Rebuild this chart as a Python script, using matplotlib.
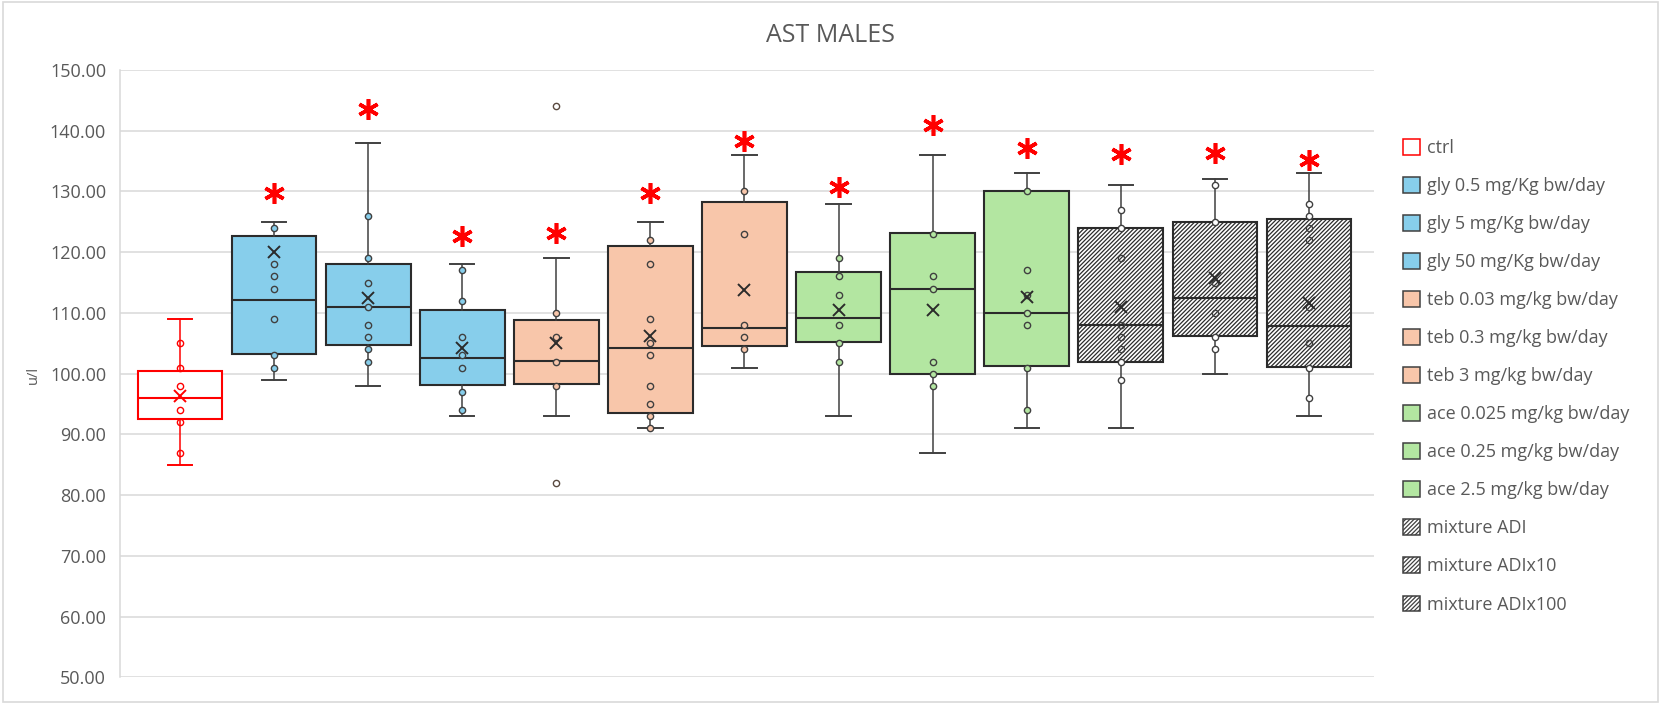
import matplotlib
matplotlib.use("Agg")
import matplotlib.pyplot as plt
from matplotlib.patches import Patch, Rectangle
import numpy as np

plt.rcParams['font.family'] = ['Open Sans', 'DejaVu Sans']
plt.rcParams['hatch.linewidth'] = 0.9

# ---------------- data ----------------
groups = ["ctrl", "gly 0.5 mg/Kg bw/day", "gly 5 mg/Kg bw/day", "gly 50 mg/Kg bw/day",
          "teb 0.03 mg/kg bw/day", "teb 0.3 mg/kg bw/day", "teb 3 mg/kg bw/day",
          "ace 0.025 mg/kg bw/day", "ace 0.25 mg/kg bw/day", "ace 2.5 mg/kg bw/day",
          "mixture ADI", "mixture ADIx10", "mixture ADIx100"]
q1 = [92.5, 103.3, 104.7, 98.1, 98.3, 93.6, 104.6, 105.2, 100.0, 101.2, 102.0, 106.2, 101.1]
median = [96.0, 112.1, 111.0, 102.6, 102.1, 104.2, 107.5, 109.1, 114.0, 110.0, 108.0, 112.4, 107.9]
q3 = [100.5, 122.6, 118.1, 110.5, 108.9, 121.1, 128.3, 116.7, 123.1, 130.0, 124.0, 124.9, 125.4]
whisker_low = [85, 99, 98, 93, 93, 91, 101, 93, 87, 91, 91, 100, 93]
whisker_high = [109, 125, 138, 118, 119, 125, 136, 128, 136, 133, 131, 132, 133]
means = [96.3, 120.0, 112.5, 104.2, 105.0, 106.2, 113.7, 110.5, 110.5, 112.7, 111.0, 115.7, 111.6]
outliers = [[], [], [], [], [82, 144], [], [], [], [], [], [], [], []]
inner_points = [
    [87, 92, 94, 98, 101, 105],
    [101, 103, 109, 114, 116, 118, 124],
    [102, 104, 106, 108, 111, 115, 119, 126],
    [94, 97, 101, 103, 106, 112, 117],
    [98, 102, 106, 110],
    [91, 93, 95, 98, 103, 105, 109, 118, 122],
    [104, 106, 108, 123, 130],
    [102, 105, 108, 113, 116, 119],
    [98, 100, 102, 114, 116, 123],
    [94, 101, 108, 110, 113, 117, 130],
    [99, 102, 104, 106, 108, 119, 124, 127],
    [104, 106, 110, 115, 125, 131],
    [96, 101, 105, 111, 122, 124, 126, 128],
]
significance_y = [None, 129.7, 143.6, 122.7, 123.1, 129.7, 138.3, 130.7, 140.9, 137.1, 136.2, 136.3, 135.2]
yticks = [50, 60, 70, 80, 90, 100, 110, 120, 130, 140, 150]

# ---------------- styles ----------------
BLUE, PEACH, GREEN = '#87CEEB', '#F8C6AA', '#B3E6A1'
fills = ['white', BLUE, BLUE, BLUE, PEACH, PEACH, PEACH, GREEN, GREEN, GREEN, 'white', 'white', 'white']
hatches = [None] * 10 + ['////////'] * 3
edge = '#2B2B2B'
wcol = '#404040'
edges = ['#FF0000'] + [edge] * 12
wcols = ['#FF0000'] + [wcol] * 12
text_col = '#595959'
grid_col = '#D9D9D9'

fig = plt.figure(figsize=(16.62, 7.04), dpi=100)
ax = fig.add_axes([120 / 1662, 1 - 677.3 / 704, (1374 - 120) / 1662, (677.3 - 70) / 704])

positions = np.arange(1, len(groups) + 1)
for i, pos in enumerate(positions):
    stats = [dict(med=median[i], q1=q1[i], q3=q3[i], whislo=whisker_low[i],
                  whishi=whisker_high[i], mean=means[i], fliers=outliers[i], label=groups[i])]
    res = ax.bxp(stats, positions=[pos], widths=0.90, capwidths=0.26, showmeans=True,
                 patch_artist=True, manage_ticks=False,
                 boxprops=dict(facecolor=fills[i], edgecolor=edges[i], linewidth=1.5,
                               hatch=hatches[i]),
                 medianprops=dict(color=edges[i], linewidth=1.5),
                 whiskerprops=dict(color=wcols[i], linewidth=1.1),
                 capprops=dict(color=wcols[i], linewidth=1.4),
                 meanprops=dict(marker='x', markeredgecolor=edges[i], markersize=9,
                                markeredgewidth=1.4, linestyle='none'),
                 flierprops=dict(marker='o', markerfacecolor='white', markeredgecolor='#5a4a40',
                                 markersize=4.5, markeredgewidth=1.0))
    for b in res['boxes']:
        b.set_zorder(2)
    for m in res['means']:
        m.set_zorder(5)
    pts = np.asarray(inner_points[i], dtype=float)
    if i == 0:
        ax.plot(np.full(len(pts), pos), pts, linestyle='none', marker='o', markersize=4.5,
                markerfacecolor='none', markeredgecolor=edges[0], markeredgewidth=1.0, zorder=4)
    elif hatches[i] is not None:
        inside = (pts > q1[i] + 0.5) & (pts < q3[i] - 0.5)
        ax.plot(np.full(inside.sum(), pos), pts[inside], linestyle='none', marker='o',
                markersize=4.5, markerfacecolor='none', markeredgecolor=wcol,
                markeredgewidth=1.0, zorder=4)
        ax.plot(np.full((~inside).sum(), pos), pts[~inside], linestyle='none', marker='o',
                markersize=4.5, markerfacecolor='white', markeredgecolor=wcol,
                markeredgewidth=1.0, zorder=4)
    else:
        ax.plot(np.full(len(pts), pos), pts, linestyle='none', marker='o', markersize=4.5,
                markerfacecolor=fills[i], markeredgecolor=wcol, markeredgewidth=1.0, zorder=4)
    if significance_y[i] is not None:
        ax.plot([pos], [significance_y[i]], linestyle='none', marker=(6, 2, 0),
                markersize=15, markeredgewidth=2.6, color='#FF0000', zorder=6)

ax.set_xlim(1 - 60 / 94.08, 13 + 65 / 94.08)
ax.set_ylim(50, 150)
ax.set_yticks(yticks)
ax.set_yticklabels([f"{v:.2f}" for v in yticks])
ax.set_xticks([])
ax.tick_params(axis='y', length=0, pad=10, labelsize=13, labelcolor=text_col)
ax.yaxis.grid(True, color=grid_col, linewidth=1.1)
ax.set_axisbelow(True)
for s in ['top', 'right', 'bottom']:
    ax.spines[s].set_visible(False)
ax.spines['left'].set_color(grid_col)
ax.spines['left'].set_linewidth(1.1)

fig.text(0.4998, 1 - 35 / 704, "AST MALES", ha='center', va='center', fontsize=18,
         color=text_col)
fig.text(33 / 1662, 1 - 375 / 704, "u/l", rotation=90, ha='center', va='center',
         fontsize=10.5, color=text_col)

handles = []
for i, g in enumerate(groups):
    handles.append(Patch(facecolor=fills[i], edgecolor=edges[i] if i == 0 else '#404040',
                         hatch=hatches[i], linewidth=1.1, label=g))
fig.legend(handles=handles, loc='upper left', bbox_to_anchor=(1403 / 1662, 1 - 139 / 704),
           frameon=False, fontsize=13, handlelength=0.95, handleheight=0.95,
           handletextpad=0.4, labelspacing=1.11, borderpad=0, borderaxespad=0,
           labelcolor=text_col)

fig.add_artist(Rectangle((2.7 / 1662, 1 - 701.7 / 704), (1658 - 2.7) / 1662, (701.7 - 1.7) / 704,
                         transform=fig.transFigure, fill=False, edgecolor=grid_col, linewidth=1.2))

fig.savefig("out.png", dpi=100)
